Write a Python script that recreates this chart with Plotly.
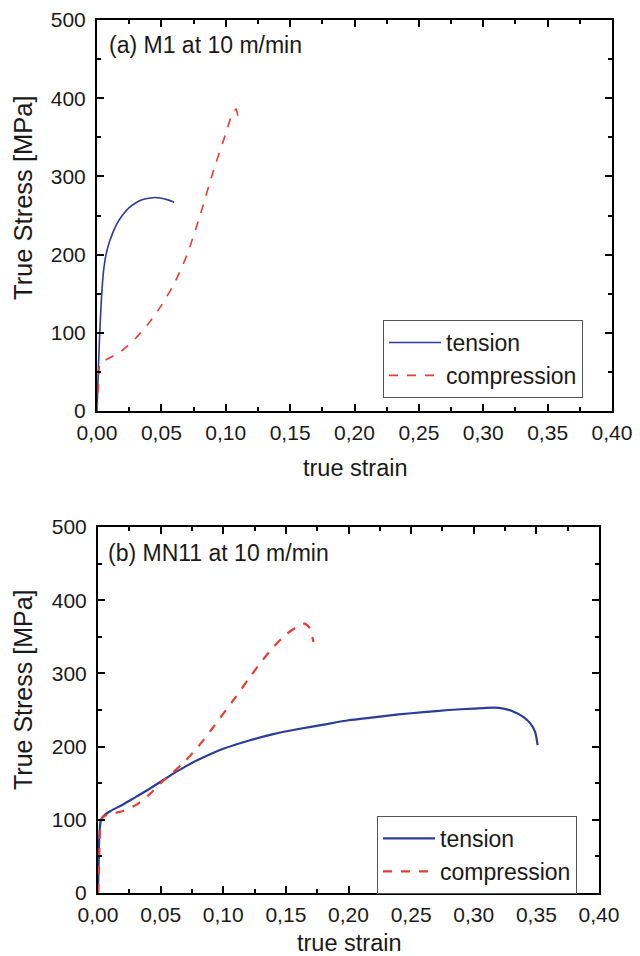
import plotly.graph_objects as go

# Panel (a) M1
a_ten_strain = [0, 0.001, 0.002, 0.003, 0.004, 0.005, 0.007, 0.01, 0.015, 0.02, 0.025, 0.03, 0.035, 0.04, 0.045, 0.05, 0.055, 0.06]
a_ten_stress = [0, 50, 95, 130, 158, 178, 200, 218, 238, 251, 260, 266, 270, 272, 273, 272, 270, 267]
a_com_strain = [0, 0.001, 0.002, 0.004, 0.01, 0.02, 0.03, 0.04, 0.05, 0.06, 0.07, 0.08, 0.09, 0.1, 0.105, 0.108, 0.11]
a_com_stress = [0, 30, 58, 63, 68, 78, 93, 112, 135, 163, 200, 250, 305, 355, 380, 386, 369]

# Panel (b) MN11
b_ten_strain = [0, 0.0005, 0.001, 0.002, 0.003, 0.005, 0.01, 0.02, 0.03, 0.04, 0.05, 0.06, 0.07, 0.08, 0.09, 0.10, 0.12, 0.14, 0.16, 0.18, 0.20, 0.22, 0.24, 0.26, 0.28, 0.30, 0.31, 0.32, 0.33, 0.34, 0.345, 0.349, 0.351]
b_ten_stress = [0, 40, 75, 97, 102, 106, 112, 121, 131, 141, 152, 163, 173, 182, 190, 197, 208, 217, 224, 230, 236, 240, 244, 247, 250, 252, 253, 253, 249, 240, 232, 220, 202]
b_com_strain = [0, 0.001, 0.002, 0.004, 0.01, 0.02, 0.03, 0.04, 0.05, 0.06, 0.07, 0.08, 0.09, 0.10, 0.11, 0.12, 0.13, 0.14, 0.15, 0.16, 0.165, 0.169, 0.172]
b_com_stress = [0, 50, 95, 104, 108, 112, 120, 133, 150, 165, 181, 200, 222, 245, 268, 292, 315, 336, 353, 365, 368, 362, 343]

panel_labels = ["(a) M1 at 10 m/min", "(b) MN11 at 10 m/min"]
x_ticks = [0, 0.05, 0.10, 0.15, 0.20, 0.25, 0.30, 0.35, 0.40]
y_ticks = [0, 100, 200, 300, 400, 500]

BLUE = "#2b3c9c"
RED = "#ec3a32"
TXT = "#1a1a1a"
FONT = "Liberation Sans, Arial, sans-serif"
W, H = 640, 956
TICK_SIZE = 21

fig = go.Figure()
fig.add_trace(go.Scatter(x=a_ten_strain, y=a_ten_stress, mode="lines", name="tension",
                         line=dict(color=BLUE, width=1.6, shape="spline", smoothing=0.6), xaxis="x", yaxis="y", legend="legend"))
fig.add_trace(go.Scatter(x=a_com_strain, y=a_com_stress, mode="lines", name="compression",
                         line=dict(color=RED, width=1.6, dash="dash", shape="spline", smoothing=0.6), xaxis="x", yaxis="y", legend="legend"))
fig.add_trace(go.Scatter(x=b_ten_strain, y=b_ten_stress, mode="lines", name="tension",
                         line=dict(color=BLUE, width=2.2, shape="spline", smoothing=0.6), xaxis="x2", yaxis="y2", legend="legend2"))
fig.add_trace(go.Scatter(x=b_com_strain, y=b_com_stress, mode="lines", name="compression",
                         line=dict(color=RED, width=2.2, dash="dash", shape="spline", smoothing=0.6), xaxis="x2", yaxis="y2", legend="legend2"))

def xax(domain, anchor):
    return dict(domain=domain, anchor=anchor, range=[0, 0.4], tickvals=x_ticks, tickformat=".2f",
                ticks="inside", ticklen=7, tickwidth=1.5, tickcolor="black", ticklabelstandoff=2,
                minor=dict(ticks="inside", ticklen=4, tickwidth=1.5, tickcolor="black", dtick=0.025),
                showline=True, linecolor="black", linewidth=2, mirror="allticks", automargin=False,
                showgrid=False, zeroline=False, tickfont=dict(size=TICK_SIZE, color=TXT, family=FONT))

def yax(domain, anchor):
    return dict(domain=domain, anchor=anchor, range=[0, 500], tickvals=y_ticks,
                ticks="inside", ticklen=7, tickwidth=1.5, tickcolor="black", ticklabelstandoff=5,
                minor=dict(ticks="inside", ticklen=4, tickwidth=1.5, tickcolor="black", dtick=50),
                showline=True, linecolor="black", linewidth=2, mirror="allticks", automargin=False,
                showgrid=False, zeroline=False, tickfont=dict(size=TICK_SIZE, color=TXT, family=FONT))

legend_style = dict(bgcolor="white", bordercolor="#555", borderwidth=1,
                    font=dict(size=23, color=TXT, family=FONT), xanchor="left", yanchor="top",
                    tracegroupgap=0, itemwidth=52)

def note(text, x, y, size, angle=0, xanchor="center"):
    return dict(text=text, x=x / W, y=1 - y / H, xref="paper", yref="paper", showarrow=False,
                xanchor=xanchor, yanchor="middle", textangle=angle,
                font=dict(size=size, color=TXT, family=FONT))

fig.update_layout(
    width=W, height=H, margin=dict(l=0, r=0, t=0, b=0, pad=0, autoexpand=False),
    paper_bgcolor="white", plot_bgcolor="white", separators=",.",
    font=dict(family=FONT, color=TXT),
    xaxis=xax([97 / W, 612 / W], "y"),
    yaxis=yax([1 - 411 / H, 1 - 20 / H], "x"),
    xaxis2=xax([98 / W, 599 / W], "y2"),
    yaxis2=yax([1 - 893 / H, 1 - 527 / H], "x2"),
    legend=dict(x=383 / W, y=1 - 320 / H, **legend_style),
    legend2=dict(x=377 / W, y=1 - 816 / H, **legend_style),
    annotations=[
        note(panel_labels[0], 107, 45, 23, xanchor="left"),
        note(panel_labels[1], 106, 553, 23, xanchor="left"),
        note("True Stress [MPa]", 23, 198, 25.5, angle=-90),
        note("True Stress [MPa]", 23, 690, 25, angle=-90),
        note("true strain", 355, 468, 23.5),
        note("true strain", 349, 943, 23.5),
    ],
)

fig.write_html("out.html")
